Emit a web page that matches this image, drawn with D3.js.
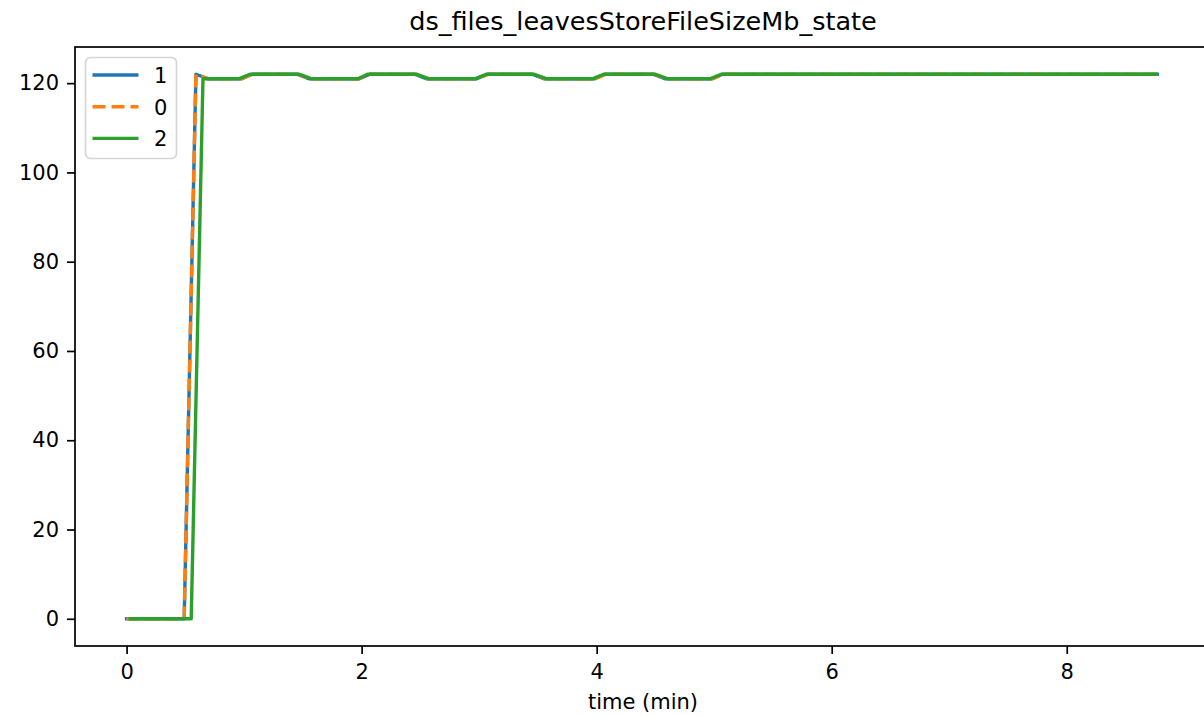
<!DOCTYPE html>
<html>
<head>
<meta charset="utf-8">
<script src="https://cdn.jsdelivr.net/npm/d3@7"></script>
<style>
  html, body { margin: 0; padding: 0; background: #fff; }
  svg { display: block; }
  text { font-family: "DejaVu Sans", sans-serif; fill: #000; }
</style>
</head>
<body>
<svg id="chart" width="1204" height="716"></svg>
<script>
// ---- data (breakpoints) ----
const chartTitle = "ds_files_leavesStoreFileSizeMb_state";
const xLabel = "time (min)";
const xTicks = [0, 2, 4, 6, 8];
const yTicks = [0, 20, 40, 60, 80, 100, 120];

const series1Time  = [0, 0.49, 0.59, 0.69, 0.98, 1.07, 1.45, 1.55, 1.98, 2.07, 2.45, 2.55, 2.98, 3.07, 3.45, 3.55, 3.98, 4.07, 4.48, 4.58, 4.98, 5.07, 8.77];
const series1Value = [0, 0, 122, 121, 121, 122, 122, 121, 121, 122, 122, 121, 121, 122, 122, 121, 121, 122, 122, 121, 121, 122, 122];

const series0Time  = [0, 0.49, 0.59, 0.69, 0.98, 1.07, 1.46, 1.56, 1.98, 2.07, 2.46, 2.56, 2.99, 3.08, 3.46, 3.56, 3.99, 4.08, 4.49, 4.59, 4.99, 5.08, 8.79];
const series0Value = [0, 0, 122, 121, 121, 122, 122, 121, 121, 122, 122, 121, 121, 122, 122, 121, 121, 122, 122, 121, 121, 122, 122];

const series2Time  = [0.03, 0.55, 0.65, 0.96, 1.05, 1.47, 1.57, 1.97, 2.05, 2.47, 2.57, 2.97, 3.06, 3.47, 3.57, 3.97, 4.06, 4.5, 4.6, 4.97, 5.06, 8.76];
const series2Value = [0, 0, 121, 121, 122, 122, 121, 121, 122, 122, 121, 121, 122, 122, 121, 121, 122, 122, 121, 121, 122, 122];

const seriesNames  = ["1", "0", "2"];
const seriesColors = ["#1f77b4", "#ff7f0e", "#2ca02c"];

// ---- layout ----
const svg = d3.select("#chart");
const plot = { left: 75, top: 47, right: 1210, bottom: 646 };

const x = d3.scaleLinear().domain([-0.439, 9.219]).range([plot.left, plot.right]);
const y = d3.scaleLinear().domain([-6.1, 128.1]).range([plot.bottom, plot.top]);

const tickFont = 21;
const lw = 3.4;
const dash = "13,6";

// title
svg.append("text")
  .attr("x", 643)
  .attr("y", 30)
  .attr("text-anchor", "middle")
  .style("font-size", "25.5px")
  .text(chartTitle);

// lines
svg.append("clipPath").attr("id", "clip")
  .append("rect").attr("x", plot.left).attr("y", plot.top)
  .attr("width", plot.right - plot.left).attr("height", plot.bottom - plot.top);

const line = d3.line().x(d => x(d[0])).y(d => y(d[1]));
const g = svg.append("g").attr("clip-path", "url(#clip)");

const s1 = series1Time.map((t, i) => [t, series1Value[i]]);
const s0 = series0Time.map((t, i) => [t, series0Value[i]]);
const s2 = series2Time.map((t, i) => [t, series2Value[i]]);

g.append("path").datum(s1).attr("d", line)
  .attr("fill", "none").attr("stroke", seriesColors[0]).attr("stroke-width", lw)
  .attr("stroke-linecap", "square").attr("stroke-linejoin", "round");
g.append("path").datum(s0).attr("d", line)
  .attr("fill", "none").attr("stroke", seriesColors[1]).attr("stroke-width", lw)
  .attr("stroke-dasharray", dash).attr("stroke-linecap", "butt").attr("stroke-linejoin", "round");
g.append("path").datum(s2).attr("d", line)
  .attr("fill", "none").attr("stroke", seriesColors[2]).attr("stroke-width", lw)
  .attr("stroke-linecap", "square").attr("stroke-linejoin", "round");

// axes
const xAxis = d3.axisBottom(x).tickValues(xTicks).tickSize(8).tickPadding(10).tickFormat(d3.format("d"));
const yAxis = d3.axisLeft(y).tickValues(yTicks).tickSize(8).tickPadding(8).tickFormat(d3.format("d"));

const gx = svg.append("g").attr("transform", `translate(0,${plot.bottom})`).call(xAxis);
const gy = svg.append("g").attr("transform", `translate(${plot.left},0)`).call(yAxis);
[gx, gy].forEach(a => {
  a.select(".domain").remove();
  a.selectAll(".tick line").attr("stroke", "#000").attr("stroke-width", 1.7);
  a.selectAll(".tick text").style("font-size", tickFont + "px").style("font-family", "DejaVu Sans, sans-serif");
});

// spines
svg.append("rect")
  .attr("x", plot.left).attr("y", plot.top)
  .attr("width", plot.right - plot.left).attr("height", plot.bottom - plot.top)
  .attr("fill", "none").attr("stroke", "#000").attr("stroke-width", 1.7);

// x label
svg.append("text")
  .attr("x", 643)
  .attr("y", 709)
  .attr("text-anchor", "middle")
  .style("font-size", tickFont + "px")
  .text(xLabel);

// legend
const leg = svg.append("g");
leg.append("rect")
  .attr("x", 85.5).attr("y", 57.5).attr("width", 91).attr("height", 101)
  .attr("rx", 5).attr("ry", 5)
  .attr("fill", "#fff").attr("fill-opacity", 0.8)
  .attr("stroke", "#d6d6d6").attr("stroke-width", 1.7);
seriesNames.forEach((name, i) => {
  const yy = 75 + i * 31.7;
  const ln = leg.append("line")
    .attr("x1", 92.5).attr("x2", 138.5).attr("y1", yy).attr("y2", yy)
    .attr("stroke", seriesColors[i]).attr("stroke-width", lw);
  if (i === 1) ln.attr("stroke-dasharray", dash);
  leg.append("text")
    .attr("x", 154).attr("y", yy + 8)
    .style("font-size", tickFont + "px")
    .text(name);
});
</script>
</body>
</html>
